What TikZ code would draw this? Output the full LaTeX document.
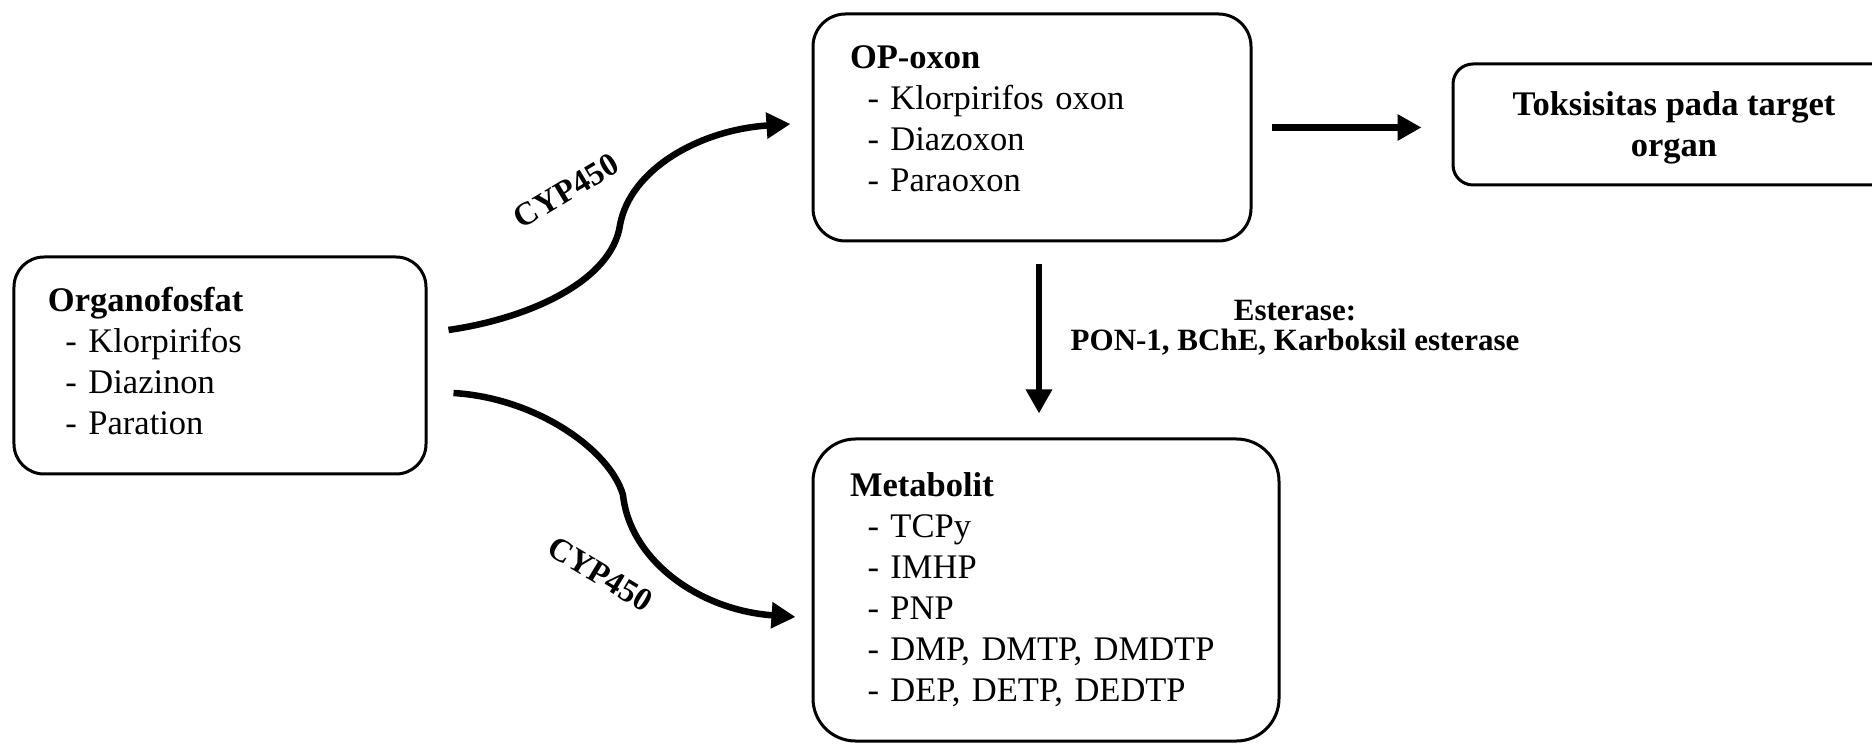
\documentclass[tikz,border=0pt]{standalone}
\usepackage{fontspec}
\setmainfont{Liberation Serif}
\usetikzlibrary{arrows.meta,calc}

\begin{document}
\begin{tikzpicture}[x=0.4pt,y=-0.4pt,
    box/.style={draw,line width=1.2pt,inner sep=0pt,align=left,
      font=\fontsize{13.8}{16.4}\selectfont},
    flow/.style={line width=2.6pt,-{Triangle[length=9.6pt,width=10pt]}},
    enzyme/.style={font=\bfseries\fontsize{13}{15}\selectfont}]
    \useasboundingbox (0,0) rectangle (1872,744);
    \clip (0,0) rectangle (1872,744);
    % boxes
    \node[box,rounded corners=12pt,minimum width=164.8pt,minimum height=86.8pt,
      text width=137.6pt] (orga) at (220,365.5)
      {\textbf{Organofosfat}\\
       \hspace*{7pt}- Klorpirifos\\
       \hspace*{7pt}- Diazinon\\
       \hspace*{7pt}- Paration\rule[-3.4pt]{0pt}{3.4pt}};
    \node[box,rounded corners=13pt,minimum width=175.2pt,minimum height=90.8pt,
      text width=145.6pt] (oxon) at (1032,127.5)
      {\textbf{OP-oxon}\\
       \hspace*{7pt}- Klorpirifos oxon\\
       \hspace*{7pt}- Diazoxon\\
       \hspace*{7pt}- Paraoxon\rule[-7.2pt]{0pt}{7.2pt}};
    \node[box,rounded corners=8pt,minimum width=176.8pt,minimum height=48.4pt,
      align=center,font=\bfseries\fontsize{13.8}{16.4}\selectfont] (toks) at (1674,124.5)
      {\rule{0pt}{12pt}Toksisitas pada target\\organ};
    \node[box,rounded corners=17pt,minimum width=186.4pt,minimum height=120.8pt,
      text width=156.8pt] (meta) at (1046,590)
      {\textbf{Metabolit}\\
       \hspace*{7pt}- TCPy\\
       \hspace*{7pt}- IMHP\\
       \hspace*{7pt}- PNP\\
       \hspace*{7pt}- DMP, DMTP, DMDTP\\
       \hspace*{7pt}- DEP, DETP, DEDTP};
    % bending points of the two CYP450 routes
    \coordinate (bendup) at (620,225);
    \coordinate (benddown) at (623,495);
    \draw[flow] ([shift={(21,-35.5)}]orga.east) .. controls +(83,-12) and +(-8,55) .. (bendup)
      .. controls +(10,-55) and +(-92,6) .. ([shift={(-21,-3.5)}]oxon.west);
    \draw[flow] ([shift={(26,27.5)}]orga.east) .. controls +(83,5) and +(-13,-45) .. (benddown)
      .. controls +(7,65) and +(-97,-7) .. ([shift={(-16,27)}]meta.west);
    \node[enzyme,rotate=31] (cypup) at (566,191) {CYP450};
    \node[enzyme,rotate=-31] (cypdown) at (600,574) {CYP450};
    % oxon -> toxicity, oxon -> metabolites
    \draw[flow,shorten <=7.6pt,shorten >=12pt] (oxon.east) -- (oxon.east -| toks.west);
    \coordinate (esmid) at ($(oxon.south)!.5!(meta.north)$);
    \draw[flow,shorten <=8.8pt,shorten >=9.6pt] (esmid |- oxon.south) -- (esmid |- meta.north);
    \node[align=center,font=\bfseries\fontsize{12.4}{12}\selectfont] (esterase) at (1295,328)
      {Esterase:\\PON-1, BChE, Karboksil esterase};
\end{tikzpicture}
\end{document}
